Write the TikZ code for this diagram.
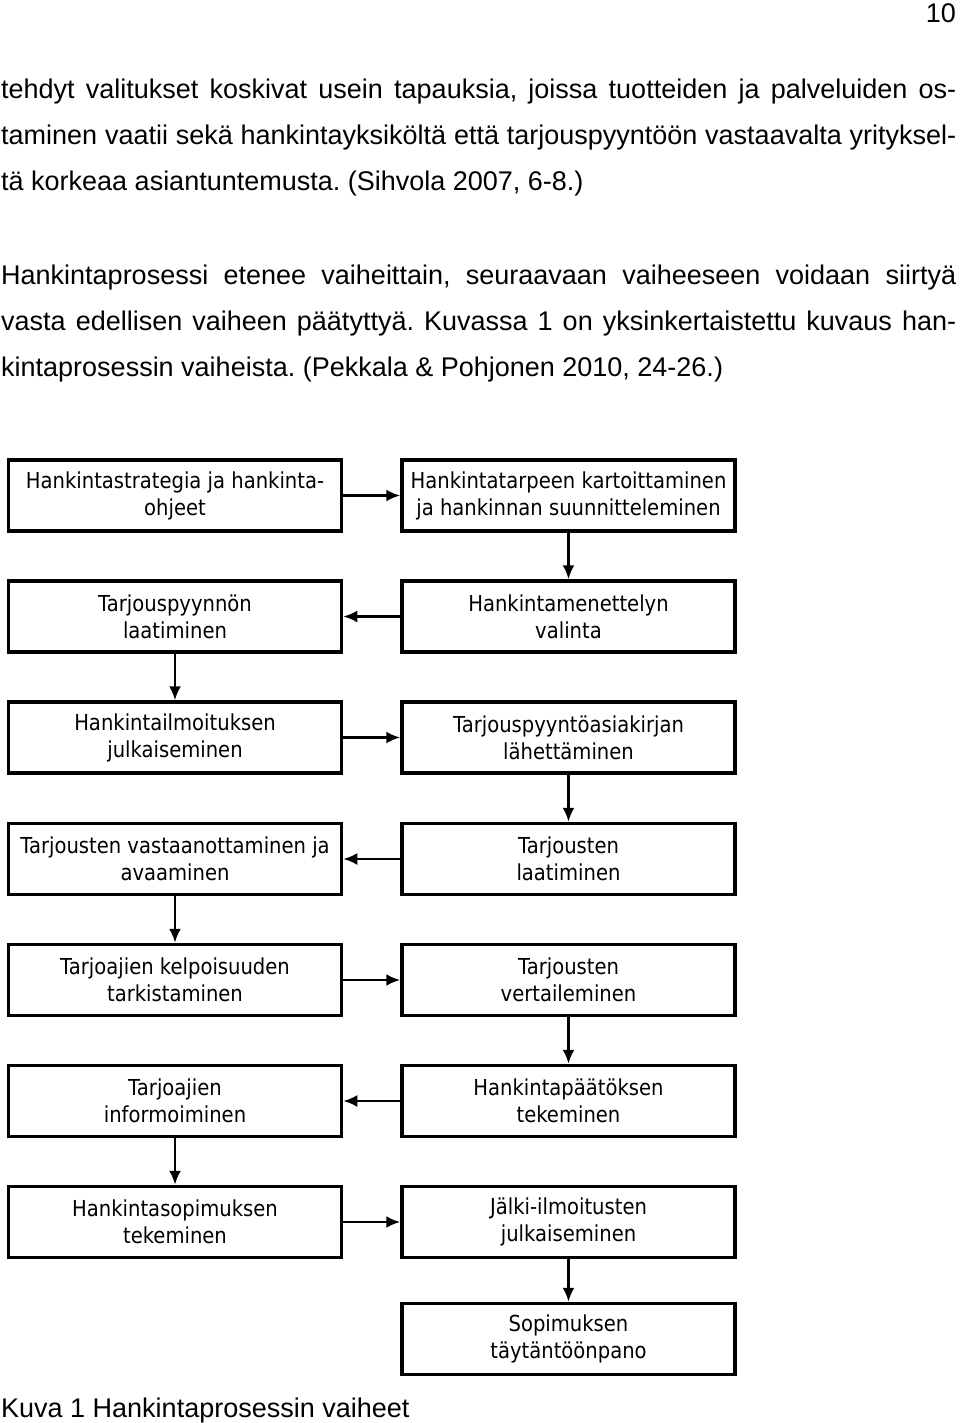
\documentclass[tikz,border=0pt]{standalone}
\usepackage{fontspec}
\setmainfont{Liberation Sans}
\newfontfamily\boxfont[FakeStretch=0.89]{DejaVu Sans}
\usepackage{tikz}
\usetikzlibrary{arrows.meta}
\frenchspacing
\tikzset{every edge/.style={draw, line width=2.5pt}}
\tikzset{>={Latex[length=14pt,width=12pt]}}
\tikzset{stepbox/.style={draw, line width=3.5pt, minimum width=333pt, minimum height=71pt,
    inner sep=0pt, align=center, font=\boxfont\fontsize{22}{27}\selectfont}}
\tikzset{bodytext/.style={anchor=base west, inner sep=0pt, font=\fontsize{27}{46}\selectfont}}

\begin{document}
\begin{tikzpicture}[x=1pt, y=-1pt]
    \useasboundingbox (0,0) rectangle (960,1423);

    % sivunumero ja leipateksti
    \node[bodytext, anchor=base east] at (956, 23) (sivu) {10};
    \node[bodytext] at (1, 99) (p1a) {\makebox[955pt][s]{tehdyt valitukset koskivat usein tapauksia, joissa tuotteiden ja palveluiden os-}};
    \node[bodytext] at (1, 145) (p1b) {\makebox[955pt][s]{taminen vaatii sekä hankintayksiköltä että tarjouspyyntöön vastaavalta yrityksel-}};
    \node[bodytext] at (1, 191) (p1c) {tä korkeaa asiantuntemusta. (Sihvola 2007, 6-8.)};
    \node[bodytext] at (1, 284) (p2a) {\makebox[955pt][s]{Hankintaprosessi etenee vaiheittain, seuraavaan vaiheeseen voidaan siirtyä}};
    \node[bodytext] at (1, 330) (p2b) {\makebox[955pt][s]{vasta edellisen vaiheen päätyttyä. Kuvassa 1 on yksinkertaistettu kuvaus han-}};
    \node[bodytext] at (1, 376) (p2c) {kintaprosessin vaiheista. (Pekkala \& Pohjonen 2010, 24-26.)};

    % vaiheet
    \node[stepbox] at (175, 495.5) (strat) {Hankintastrategia ja hankinta-\\ohjeet};
    \node[stepbox] at (568.5, 495.5) (tarve) {Hankintatarpeen kartoittaminen\\ja hankinnan suunnitteleminen};
    \node[stepbox] at (175, 616.5) (tpyynto) {Tarjouspyynnön\\laatiminen};
    \node[stepbox] at (568.5, 616.5) (menettely) {Hankintamenettelyn\\valinta};
    \node[stepbox] at (175, 737.5) (ilmoitus) {Hankintailmoituksen\\julkaiseminen};
    \node[stepbox] at (568.5, 737.5) (asiakirja) {Tarjouspyyntöasiakirjan\\lähettäminen};
    \node[stepbox] at (175, 859) (vastaanotto) {Tarjousten vastaanottaminen ja\\avaaminen};
    \node[stepbox] at (568.5, 859) (laadinta) {Tarjousten\\laatiminen};
    \node[stepbox] at (175, 980) (kelpoisuus) {Tarjoajien kelpoisuuden\\tarkistaminen};
    \node[stepbox] at (568.5, 980) (vertailu) {Tarjousten\\vertaileminen};
    \node[stepbox] at (175, 1101) (informointi) {Tarjoajien\\informoiminen};
    \node[stepbox] at (568.5, 1101) (paatos) {Hankintapäätöksen\\tekeminen};
    \node[stepbox] at (175, 1222) (sopimus) {Hankintasopimuksen\\tekeminen};
    \node[stepbox] at (568.5, 1222) (jalki) {Jälki-ilmoitusten\\julkaiseminen};
    \node[stepbox] at (568.5, 1339) (taytanto) {Sopimuksen\\täytäntöönpano};

    \draw (strat) edge[->] (tarve);
    \draw (tarve) edge[->] (menettely);
    \draw (menettely) edge[->] (tpyynto);
    \draw (tpyynto) edge[->] (ilmoitus);
    \draw (ilmoitus) edge[->] (asiakirja);
    \draw (asiakirja) edge[->] (laadinta);
    \draw (laadinta) edge[->] (vastaanotto);
    \draw (vastaanotto) edge[->] (kelpoisuus);
    \draw (kelpoisuus) edge[->] (vertailu);
    \draw (vertailu) edge[->] (paatos);
    \draw (paatos) edge[->] (informointi);
    \draw (informointi) edge[->] (sopimus);
    \draw (sopimus) edge[->] (jalki);
    \draw (jalki) edge[->] (taytanto);

    % kuvateksti
    \node[bodytext] at (1, 1417) (kuva) {Kuva 1 Hankintaprosessin vaiheet};
\end{tikzpicture}
\end{document}
